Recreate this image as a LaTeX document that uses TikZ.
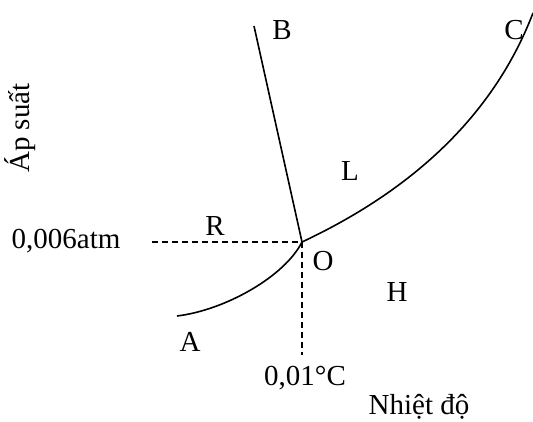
\documentclass[tikz,border=0pt]{standalone}
\usepackage{fontspec}
\setmainfont{Liberation Serif}
\usetikzlibrary{positioning}

\begin{document}
\begin{tikzpicture}[
        x=1pt, y=-1pt,
        font=\fontsize{29}{34}\selectfont,
        phase_line/.style={
            draw=black,
            line width=1.6pt
        },
        guide_line/.style={
            draw=black,
            line width=1.4pt,
            dash pattern=on 6pt off 4pt
        },
        lbl/.style={
            inner sep=0pt,
            anchor=center
        }
    ]
    \useasboundingbox (0,0) rectangle (533,422);

    % Key points of the diagram
    \coordinate (O) at (302,242);
    \coordinate (A) at (177,316);
    \coordinate (B) at (254,26);
    \coordinate (C) at (533,13);
    \coordinate (pref) at (152,242);
    \coordinate (tref) at (302,355);

    % Phase boundaries
    \draw[phase_line] (O) -- (B);
    \draw[phase_line] (O) .. controls (400,196) and (490,125) .. (C);
    \draw[phase_line] (A) .. controls (226,310) and (285,276) .. (O);

    % Triple point guides
    \draw[guide_line] (pref) -- (O);
    \draw[guide_line] (O) -- (tref);

    % Labels
    \node[lbl] (labB) at (282,30) {B};
    \node[lbl] (labC) at (514,30) {C};
    \node[lbl] (labL) at (350,171) {L};
    \node[lbl] (labR) at (215,226) {R};
    \node[lbl] (labO) at (323,261) {O};
    \node[lbl] (labH) at (397,292) {H};
    \node[lbl] (labA) at (190,342) {A};
    \node[lbl] (pval) at (66,241) {0,006atm};
    \node[lbl] (tval) at (305,378) {0,01°C};
    \node[lbl] (xaxis) at (419,407) {Nhiệt độ};
    \node[lbl, rotate=90] (yaxis) at (20,128) {Áp suất};

\end{tikzpicture}
\end{document}
